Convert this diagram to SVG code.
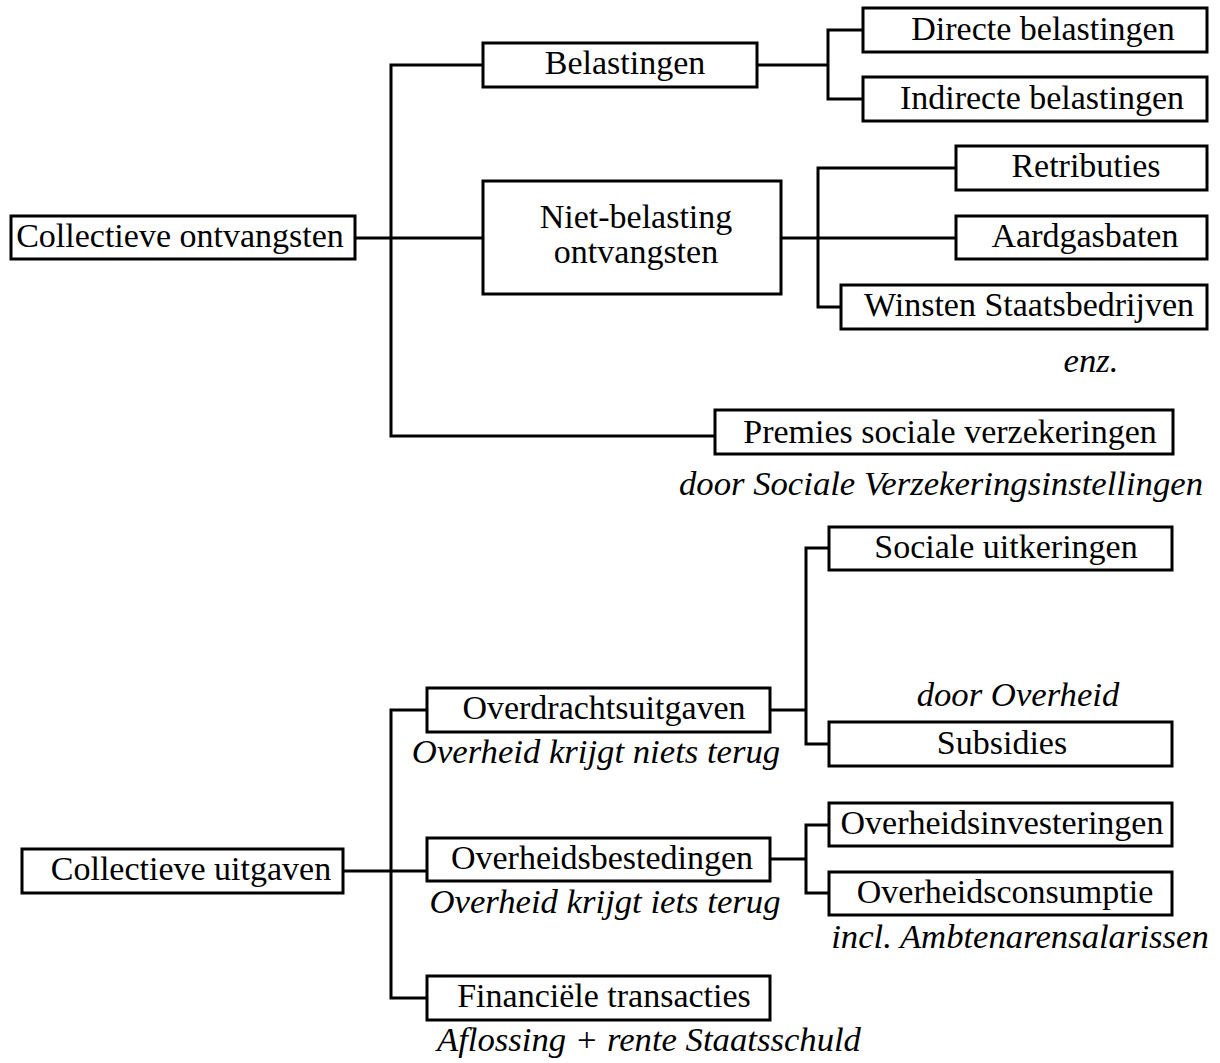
<svg xmlns="http://www.w3.org/2000/svg" width="1220" height="1063" viewBox="0 0 1220 1063">
<style>
rect.box{fill:#fff;stroke:#000;stroke-width:3}
.c path,.c line{fill:none;stroke:#000;stroke-width:3}
text{font-family:"Liberation Serif","Times New Roman",serif;font-size:34px;fill:#000;text-anchor:middle}
text.n{font-style:italic;font-size:34.7px}
</style>
<rect width="1220" height="1063" fill="#fff"/>
<g class="c" id="connectors">
<line x1="355" y1="238" x2="483" y2="238"/>
<path d="M483 65 H391 V436 H715"/>
<path d="M757 65 H828 M863 30 H828 V99 H863"/>
<path d="M781 238 H956 M956 168 H818 V307 H841"/>
<line x1="343" y1="871" x2="427" y2="871"/>
<path d="M427 710 H391 V998 H427"/>
<path d="M770 710 H806 M829 548 H806 V744 H829"/>
<path d="M770 859 H806 M829 825 H806 V893 H829"/>
</g>
<g id="n-coll-ontv"><rect class="box" x="11" y="216" width="344" height="43"/><text x="180" y="247">Collectieve ontvangsten</text></g>
<g id="n-belastingen"><rect class="box" x="483" y="43" width="274" height="44"/><text x="625" y="74">Belastingen</text></g>
<g id="n-directe"><rect class="box" x="863" y="8" width="344" height="44"/><text x="1043" y="40">Directe belastingen</text></g>
<g id="n-indirecte"><rect class="box" x="863" y="77" width="344" height="44"/><text x="1042" y="109">Indirecte belastingen</text></g>
<g id="n-nietbel"><rect class="box" x="483" y="181" width="298" height="113"/><text x="636" y="228">Niet-belasting</text><text x="636" y="263">ontvangsten</text></g>
<g id="n-retributies"><rect class="box" x="956" y="146" width="251" height="44"/><text x="1086" y="177">Retributies</text></g>
<g id="n-aardgas"><rect class="box" x="956" y="216" width="251" height="43"/><text x="1085" y="247">Aardgasbaten</text></g>
<g id="n-winsten"><rect class="box" x="841" y="285" width="366" height="44"/><text x="1029" y="316">Winsten Staatsbedrijven</text></g>
<text class="n" x="1091" y="372">enz.</text>
<g id="n-premies"><rect class="box" x="715" y="410" width="458" height="44"/><text x="950" y="443">Premies sociale verzekeringen</text></g>
<text class="n" x="941" y="495">door Sociale Verzekeringsinstellingen</text>
<g id="n-coll-uitg"><rect class="box" x="22" y="849" width="321" height="44"/><text x="191" y="880">Collectieve uitgaven</text></g>
<g id="n-overdracht"><rect class="box" x="427" y="688" width="343" height="44"/><text x="604" y="719">Overdrachtsuitgaven</text></g>
<text class="n" x="596" y="763">Overheid krijgt niets terug</text>
<g id="n-sociale"><rect class="box" x="829" y="527" width="343" height="43"/><text x="1006" y="558">Sociale uitkeringen</text></g>
<text class="n" x="1018" y="706">door Overheid</text>
<g id="n-subsidies"><rect class="box" x="829" y="722" width="343" height="44"/><text x="1002" y="754">Subsidies</text></g>
<g id="n-bested"><rect class="box" x="427" y="838" width="343" height="43"/><text x="602" y="869">Overheidsbestedingen</text></g>
<text class="n" x="605" y="913">Overheid krijgt iets terug</text>
<g id="n-invest"><rect class="box" x="829" y="803" width="343" height="43"/><text x="1002" y="834">Overheidsinvesteringen</text></g>
<g id="n-consumptie"><rect class="box" x="829" y="872" width="343" height="43"/><text x="1005" y="903">Overheidsconsumptie</text></g>
<text class="n" x="1020" y="948">incl. Ambtenarensalarissen</text>
<g id="n-financieel"><rect class="box" x="427" y="976" width="343" height="44"/><text x="604" y="1007">Financiële transacties</text></g>
<text class="n" x="649" y="1051">Aflossing + rente Staatsschuld</text>
</svg>
